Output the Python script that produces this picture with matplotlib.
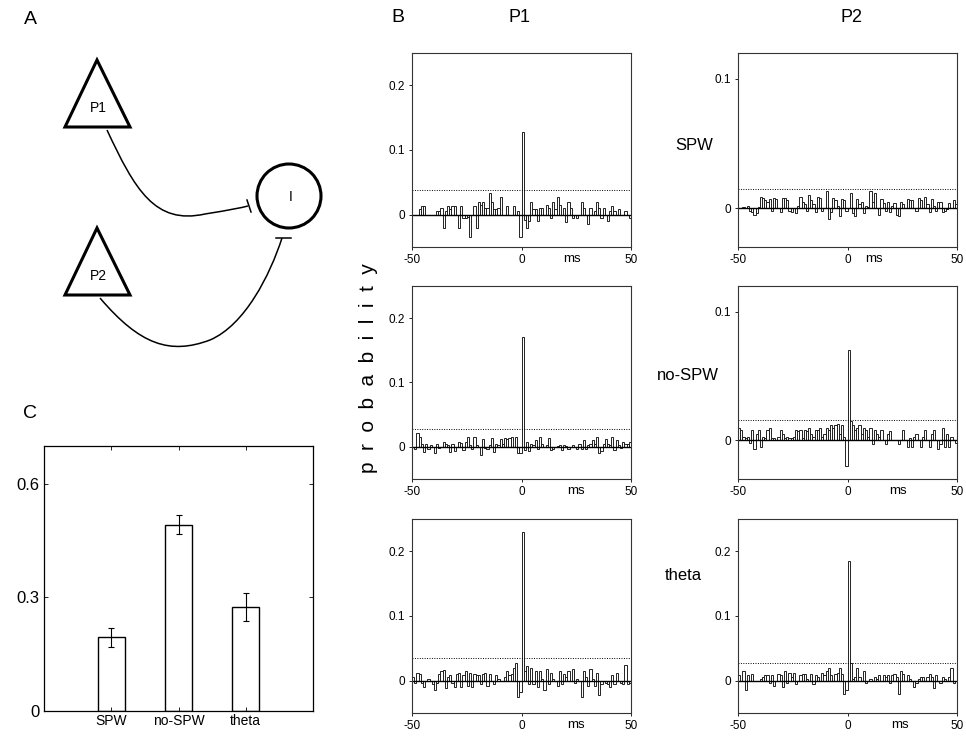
import numpy as np
import matplotlib
matplotlib.use("Agg")
import matplotlib.pyplot as plt
from matplotlib.patches import Polygon, Circle
from matplotlib.path import Path
from matplotlib.patches import PathPatch

plt.rcParams["font.family"] = ["Liberation Sans", "DejaVu Sans"]

W, H = 966, 736

# --- données : corrélogrammes croisés (bins de 1 ms, -50..50 ms), en unités de 0.001
bin_edges = np.arange(-50, 51)

p1_spw = [0, 0, 0, 8, 13, 13, 0, 0, 0, 0,
          0, 5, 5, 10, -20, 5, 13, 8, 13, 13,
          0, -20, 13, -5, -5, -4, -35, 0, 13, -20,
          20, 15, 20, 10, 10, 34, 20, 8, 8, 10,
          27, 0, 0, 13, 0, 0, 13, 0, 5, -35,
          128, -8, -20, -10, 20, 8, 8, -10, 10, 10,
          0, 15, 10, -5, 20, 8, 27, 15, 0, 10,
          -12, 20, 10, -5, 0, -5, 0, 20, 10, 0,
          -15, 10, 0, 5, 20, 10, -5, 10, 0, -10,
          5, 13, 5, 0, 8, 0, 0, 5, 0, -5]
p2_spw = [0, 0, 1, 0, 2, -2, -3, -5, -4, 1,
          9, 8, 6, 5, 7, -2, 8, 7, 0, -3,
          8, 8, 6, -2, -3, 0, -4, 2, 9, 5,
          3, -2, 10, 6, 3, -3, 9, 8, -2, 0,
          13, -8, -3, 8, 6, 2, -6, 7, 6, -2,
          0, 12, -4, -6, 7, 3, 5, -4, 2, 1,
          13, 5, 12, 0, -5, 7, 4, -2, 5, -3,
          2, 4, -5, -6, 5, 3, 0, 7, 6, 6,
          0, -2, 8, 6, 0, 9, 3, -3, 7, 2,
          -2, 5, 5, -3, -2, -1, 4, 0, 6, 3]
p1_nospw = [0, -3, 22, 15, 5, -8, 5, -3, 3, 0,
            -10, 5, -2, 0, 8, 5, 3, -8, 5, -7,
            0, 8, 6, -5, 8, 15, 3, -3, 15, 3,
            0, -13, 12, -2, -3, 3, 13, -8, 5, 3,
            12, 5, 13, 12, 13, 15, 0, 15, -10, -10,
            170, -5, 8, -7, 5, 3, 10, -3, 15, 5,
            0, 3, 14, -5, -3, 0, 2, 3, -5, 3,
            2, -3, 0, 3, 0, -3, 5, -3, 10, -3,
            3, 5, 10, 5, 15, -10, -7, 5, 12, 5,
            3, 15, -5, 10, 3, -2, 8, 5, 5, 7]
p2_nospw = [10, 8, 3, 2, 3, -2, 8, -7, 5, 8,
            -5, 3, 2, 8, 10, 2, 2, 0, 3, 8,
            5, 2, 3, 2, 2, 3, 8, 7, 8, 2,
            8, 7, 10, 5, 3, 8, 8, 10, 3, 5,
            10, 8, 12, 10, 12, 13, 5, 12, 3, -20,
            70, 15, 12, 8, 10, 12, 5, 10, 8, 3,
            10, -3, 8, 5, 3, 8, 0, -3, 5, 7,
            0, 0, 0, -3, 0, 8, 0, -5, 2, -5,
            3, 5, 0, -5, 3, 8, 0, -5, 5, 8,
            0, -7, -3, 10, -5, 5, -5, 3, 0, -2]
p1_theta = [5, -3, 12, 10, -3, -10, 0, 3, 0, -5,
            -15, -3, 10, 15, 17, -12, 5, 8, -3, -10,
            10, 12, -10, 8, 15, -8, 12, -10, 10, 8,
            8, -5, 10, 12, -8, 10, 0, -5, 8, 2,
            0, 0, 5, 15, 8, 10, 20, 28, -25, -18,
            230, 15, 22, -5, 20, -5, 15, -10, 15, 3,
            -15, 18, -5, 12, 3, 0, -8, 15, -5, 10,
            5, 15, 0, 18, -3, 2, 0, -25, 15, 5,
            -8, 18, 2, -8, 12, -22, -5, 0, -3, -5,
            -10, 8, -5, 12, 0, -3, -5, 25, -5, -3]
p2_theta = [8, 0, 15, -15, 8, 0, 10, 0, 0, 0,
            2, 5, 8, 8, -3, 8, -8, 0, 10, 8,
            -10, 15, -3, 12, 5, 12, -5, 0, 8, 10,
            10, 2, 0, 10, -5, 8, 5, 0, 12, 8,
            15, 20, 8, 0, 10, 12, 20, 10, -20, -15,
            185, 28, 3, 5, 20, 5, 0, 15, -3, 0,
            2, 0, 5, 2, 8, 0, 8, 5, 8, -3,
            8, 10, 5, -20, 15, 10, 0, 8, 2, 0,
            -10, -3, 3, 5, 5, 0, 5, 10, 5, -12,
            8, 0, -3, 5, 2, 0, 5, 20, -3, 0]

thresholds = {"p1_spw": 0.038, "p2_spw": 0.015, "p1_nospw": 0.027,
              "p2_nospw": 0.016, "p1_theta": 0.035, "p2_theta": 0.028}

# --- données : panneau C
conditions = ["SPW", "no-SPW", "theta"]
ratio_mean = [0.195, 0.492, 0.274]
ratio_err = [0.025, 0.025, 0.037]

fig = plt.figure(figsize=(W / 100, H / 100), dpi=100)


def px_axes(x0, y0, x1, y1):
    """axes placé en pixels (origine en haut à gauche)"""
    return fig.add_axes([x0 / W, 1 - y1 / H, (x1 - x0) / W, (y1 - y0) / H])


# ---------------- A : schéma
axA = px_axes(0, 0, 380, 380)
axA.set_xlim(0, 380)
axA.set_ylim(380, 0)
axA.axis("off")
for (ax_, ay_), lab in [((97, 60), "P1"), ((97, 228), "P2")]:
    tri = Polygon([(ax_, ay_), (ax_ - 32, ay_ + 67), (ax_ + 33, ay_ + 67)],
                  closed=True, fill=False, lw=2.2, ec="k", joinstyle="miter")
    axA.add_patch(tri)
    axA.text(ax_ + 1, ay_ + 48, lab, ha="center", va="center", fontsize=10)
axA.add_patch(Circle((289, 196), 32, fill=False, lw=2.2, ec="k"))
axA.text(291, 197, "I", ha="center", va="center", fontsize=10)

c1 = Path([(107, 130), (135, 190), (155, 225), (205, 214), (230, 210), (240, 208), (248, 206)],
          [Path.MOVETO, Path.CURVE4, Path.CURVE4, Path.CURVE4, Path.CURVE4, Path.CURVE4, Path.CURVE4])
axA.add_patch(PathPatch(c1, fill=False, lw=1.1, ec="k"))
axA.plot([247, 251], [200, 212], color="k", lw=1.1)
c2 = Path([(100, 298), (140, 345), (170, 355), (210, 340), (245, 325), (270, 275), (282, 238)],
          [Path.MOVETO, Path.CURVE4, Path.CURVE4, Path.CURVE4, Path.CURVE4, Path.CURVE4, Path.CURVE4])
axA.add_patch(PathPatch(c2, fill=False, lw=1.1, ec="k"))
axA.plot([276, 291], [238, 238], color="k", lw=1.1)

# ---------------- B : corrélogrammes
panels = [
    ("p1_spw", p1_spw, (412, 53, 631, 247), (-0.05, 0.25), 23),
    ("p2_spw", p2_spw, (738, 53, 957, 247), (-0.03, 0.12), 12),
    ("p1_nospw", p1_nospw, (412, 286, 631, 479), (-0.05, 0.25), 25),
    ("p2_nospw", p2_nospw, (738, 286, 957, 479), (-0.03, 0.12), 23),
    ("p1_theta", p1_theta, (412, 519, 631, 713), (-0.05, 0.25), 25),
    ("p2_theta", p2_theta, (738, 519, 957, 713), (-0.05, 0.25), 24),
]
for key, vals, box, ylim, ms_x in panels:
    ax = px_axes(*box)
    v = np.array(vals) / 1000.0
    ax.bar(bin_edges[:-1], v, width=1, align="edge", fill=False,
           edgecolor="#222222", lw=0.7)
    ax.axhline(0, color="k", lw=1.0)
    ax.axhline(thresholds[key], color="k", ls=(0, (1, 1.5)), lw=0.7)
    ax.set_xlim(-50, 50)
    ax.set_ylim(*ylim)
    ax.set_xticks([-50, 0, 50])
    ax.set_xticklabels(["-50", "0", "50"], fontsize=8.5)
    if ylim[1] > 0.2:
        ax.set_yticks([0, 0.1, 0.2])
        ax.set_yticklabels(["0", "0.1", "0.2"], fontsize=8.5)
    else:
        ax.set_yticks([0, 0.1])
        ax.set_yticklabels(["0", "0.1"], fontsize=8.5)
    ax.tick_params(length=2, width=0.6, pad=3)
    for s in ax.spines.values():
        s.set_linewidth(0.8)
        s.set_color("#333333")
    ax.text(ms_x, -0.03, "ms", transform=ax.get_xaxis_transform(),
            ha="center", va="top", fontsize=9.5)

# ---------------- C : barres
axC = px_axes(44, 446, 313, 711)
xpos = np.arange(1, len(conditions) + 1)
axC.bar(xpos, ratio_mean, width=0.4, fill=False, edgecolor="k", lw=1.0)
axC.errorbar(xpos, ratio_mean, yerr=ratio_err, fmt="none", ecolor="k",
             elinewidth=0.8, capsize=2, capthick=0.8)
axC.set_xlim(0, 4)
axC.set_ylim(0, 0.7)
axC.set_xticks(xpos)
axC.set_xticklabels(conditions, fontsize=10)
axC.set_yticks([0, 0.3, 0.6])
axC.set_yticklabels(["0", "0.3", "0.6"], fontsize=12)
axC.tick_params(direction="in", top=True, right=True, length=3, width=0.6)
axC.tick_params(axis="x", pad=2)
for s in axC.spines.values():
    s.set_linewidth(0.9)

# ---------------- textes
def ftext(x, y, s, **kw):
    fig.text(x / W, 1 - y / H, s, ha="center", va="center", **kw)


ftext(30, 20, "A", fontsize=14)
ftext(398, 18, "B", fontsize=14)
ftext(30, 414, "C", fontsize=14)
ftext(520, 18, "P1", fontsize=13)
ftext(852, 18, "P2", fontsize=13)
ftext(694, 145, "SPW", fontsize=12)
ftext(688, 375, "no-SPW", fontsize=12)
ftext(683, 576, "theta", fontsize=12)
ftext(369, 368, "p  r  o  b  a  b  i  l  i  t  y", fontsize=15, rotation=90)

fig.savefig("out.png", dpi=100)
